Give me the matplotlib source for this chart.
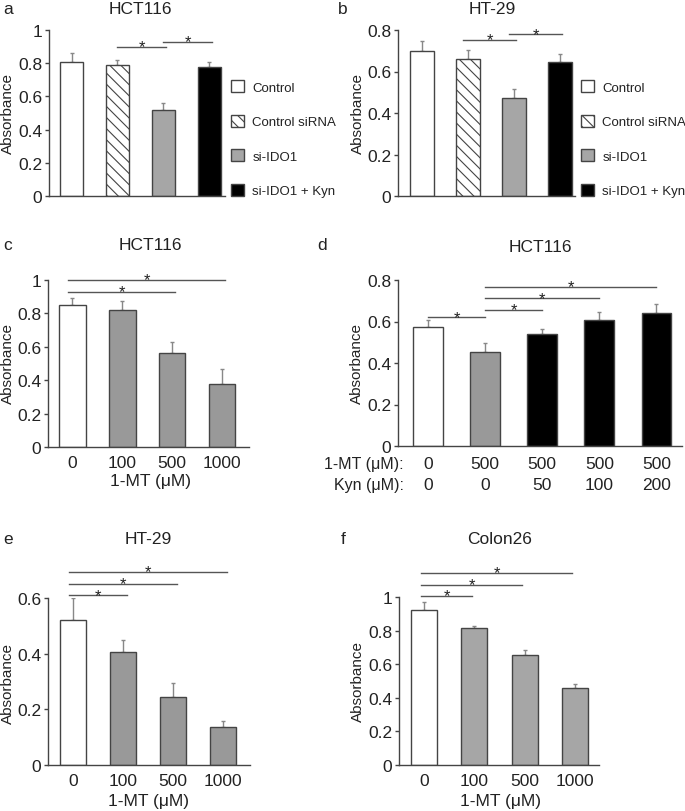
import numpy as np
import matplotlib
matplotlib.use("Agg")
import matplotlib.pyplot as plt
from matplotlib.patches import Patch
from matplotlib.transforms import blended_transform_factory

plt.rcParams['font.family'] = ['Liberation Sans', 'DejaVu Sans']
plt.rcParams['hatch.linewidth'] = 0.8
plt.rcParams['hatch.color'] = '#555555'

W, H = 685, 812
TXT = '#222222'
EDGE = '#444444'
ERR = '#888888'

# ---- data ----
groups_ab = ['Control', 'Control siRNA', 'si-IDO1', 'si-IDO1 + Kyn']
a_vals = [0.81, 0.79, 0.52, 0.775]
a_err = [0.05, 0.03, 0.04, 0.03]
b_vals = [0.70, 0.66, 0.47, 0.645]
b_err = [0.045, 0.045, 0.045, 0.04]

mt_doses = ['0', '100', '500', '1000']
c_vals = [0.85, 0.82, 0.565, 0.375]
c_err = [0.045, 0.055, 0.065, 0.095]

d_mt = ['0', '500', '500', '500', '500']
d_kyn = ['0', '0', '50', '100', '200']
d_vals = [0.575, 0.455, 0.54, 0.607, 0.64]
d_err = [0.03, 0.04, 0.025, 0.038, 0.045]

e_vals = [0.52, 0.405, 0.245, 0.135]
e_err = [0.08, 0.045, 0.048, 0.022]

f_vals = [0.925, 0.815, 0.655, 0.46]
f_err = [0.045, 0.015, 0.03, 0.025]

# significance brackets: (from bar, to bar, height)
a_sig = [(1, 2, 0.90), (2, 3, 0.93)]
b_sig = [(1, 2, 0.752), (2, 3, 0.78)]
c_sig = [(0, 2, 0.93), (0, 3, 1.0)]
d_sig = [(0, 1, 0.62), (1, 2, 0.656), (1, 3, 0.712), (1, 4, 0.768)]
e_sig = [(0, 1, 0.61), (0, 2, 0.65), (0, 3, 0.695)]
f_sig = [(0, 1, 1.008), (0, 2, 1.073), (0, 3, 1.143)]

fig = plt.figure(figsize=(W / 100, H / 100), dpi=100)


def px_axes(x0, y0, x1, y1):
    # pixel box (left, top, right, bottom) -> axes
    return fig.add_axes([x0 / W, 1 - y1 / H, (x1 - x0) / W, (y1 - y0) / H])


def fx(x):
    return x / W


def fy(y):
    return 1 - y / H


def panel(ax, vals, err, colors, ymax, yticks, xlim, width=0.52, hatches=None,
          sig=(), sig_dx=(0.0, 0.0)):
    x = np.arange(len(vals))
    bars = ax.bar(x, vals, width=width, color=colors, edgecolor=EDGE,
                  linewidth=1.0, zorder=2)
    if hatches:
        for bar, h in zip(bars, hatches):
            if h:
                bar.set_hatch(h)
    ax.errorbar(x, vals, yerr=[np.zeros(len(vals)), err], fmt='none',
                ecolor=ERR, elinewidth=1.0, capsize=1.5, capthick=1.0, zorder=1)
    ax.set_ylim(0, ymax)
    ax.set_xlim(*xlim)
    ax.set_yticks(yticks)
    ax.set_yticklabels([f'{t:g}' for t in yticks])
    for s in ['top', 'right']:
        ax.spines[s].set_visible(False)
    for s in ['left', 'bottom']:
        ax.spines[s].set_color(EDGE)
        ax.spines[s].set_linewidth(1.0)
    ax.tick_params(axis='y', length=3, width=1, color=EDGE, labelsize=12.5,
                   labelcolor=TXT, pad=2)
    ax.tick_params(axis='x', length=0, labelsize=12.5, labelcolor=TXT, pad=6)
    for i, j, h in sig:
        xa = i + sig_dx[0]
        xb = j + sig_dx[1]
        ax.plot([xa, xb], [h, h], color='#555555', lw=1.0, clip_on=False)
        ax.text((xa + xb) / 2, h, '*', ha='center', va='center', fontsize=12,
                color=TXT, clip_on=False)
    return ax


def ylab(x, y):
    fig.text(fx(x), fy(y), 'Absorbance', rotation=90, ha='center', va='center',
             fontsize=11, color=TXT)


def label(x, y, s, size=12.5, ha='center'):
    fig.text(fx(x), fy(y), s, ha=ha, va='center', fontsize=size, color=TXT)


light = '#a6a6a6'
mid = '#999999'

legend_kw = dict(loc='upper left', bbox_transform=fig.transFigure,
                 frameon=False, fontsize=9.5, handlelength=1.0,
                 handleheight=1.0, handletextpad=0.6, labelspacing=1.6,
                 borderaxespad=0, labelcolor=TXT)

# ---- panel a ----
ax = px_axes(49, 31, 225, 197)
panel(ax, a_vals, a_err, ['white', 'white', light, 'black'], 1.0,
      [0, 0.2, 0.4, 0.6, 0.8, 1], (-0.49, 3.34), width=0.5,
      hatches=[None, '\\\\\\', None, None], sig=a_sig, sig_dx=(0.0, 0.05))
ax.set_xticks([])
handles = [Patch(facecolor='white', edgecolor=EDGE),
           Patch(facecolor='white', edgecolor=EDGE, hatch='\\\\\\'),
           Patch(facecolor=light, edgecolor=EDGE),
           Patch(facecolor='black', edgecolor=EDGE)]
ax.legend(handles, groups_ab, bbox_to_anchor=(fx(226), fy(76)), **legend_kw)
label(140, 10, 'HCT116')
label(8, 10, 'a')
ylab(8, 114)

# ---- panel b ----
ax = px_axes(398, 31, 575, 197)
panel(ax, b_vals, b_err, ['white', 'white', light, 'black'], 0.8,
      [0, 0.2, 0.4, 0.6, 0.8], (-0.52, 3.33), width=0.53,
      hatches=[None, '\\\\\\', None, None], sig=b_sig, sig_dx=(-0.1, 0.05))
ax.set_xticks([])
ax.legend(handles, groups_ab, bbox_to_anchor=(fx(576), fy(76)), **legend_kw)
label(492, 10, 'HT-29')
label(343, 10, 'b')
ylab(358, 114)

# ---- panel c ----
ax = px_axes(48, 281, 249, 448)
panel(ax, c_vals, c_err, ['white', mid, mid, mid], 1.0,
      [0, 0.2, 0.4, 0.6, 0.8, 1], (-0.49, 3.54), width=0.53, sig=c_sig,
      sig_dx=(-0.08, 0.05))
ax.set_xticks(np.arange(len(mt_doses)))
ax.set_xticklabels(mt_doses)
label(150, 482, '1-MT (\u03bcM)')
label(150, 245, 'HCT116')
label(8, 245, 'c')
ylab(8, 364)

# ---- panel d ----
ax = px_axes(398, 281, 682, 447)
panel(ax, d_vals, d_err, ['white', mid, 'black', 'black', 'black'], 0.8,
      [0, 0.2, 0.4, 0.6, 0.8], (-0.53, 4.45), width=0.52, sig=d_sig,
      sig_dx=(0.0, 0.0))
ax.set_xticks([])
tr = blended_transform_factory(ax.transData, fig.transFigure)
for i, (m, k) in enumerate(zip(d_mt, d_kyn)):
    ax.text(i, fy(465), m, transform=tr, ha='center', va='center',
            fontsize=12.5, color=TXT)
    ax.text(i, fy(486), k, transform=tr, ha='center', va='center',
            fontsize=12.5, color=TXT)
label(404, 465, '1-MT (\u03bcM):', size=11.5, ha='right')
label(404, 486, 'Kyn (\u03bcM):', size=11.5, ha='right')
label(540, 247, 'HCT116')
label(322, 245, 'd')
ylab(357, 364)

# ---- panel e ----
ax = px_axes(48, 599, 250, 766)
panel(ax, e_vals, e_err, ['white', mid, mid, mid], 0.6,
      [0, 0.2, 0.4, 0.6], (-0.5, 3.54), width=0.53, sig=e_sig,
      sig_dx=(-0.08, 0.08))
ax.set_xticks(np.arange(len(mt_doses)))
ax.set_xticklabels(mt_doses)
label(148, 802, '1-MT (\u03bcM)')
label(148, 540, 'HT-29')
label(8, 540, 'e')
ylab(8, 683)

# ---- panel f ----
ax = px_axes(399, 598, 599, 766)
panel(ax, f_vals, f_err, ['white', light, light, light], 1.0,
      [0, 0.2, 0.4, 0.6, 0.8, 1], (-0.5, 3.48), width=0.52, sig=f_sig,
      sig_dx=(-0.06, -0.05))
ax.set_xticks(np.arange(len(mt_doses)))
ax.set_xticklabels(mt_doses)
label(500, 802, '1-MT (\u03bcM)')
label(500, 540, 'Colon26')
label(343, 540, 'f')
ylab(358, 682)

fig.savefig('out.png', dpi=100)
